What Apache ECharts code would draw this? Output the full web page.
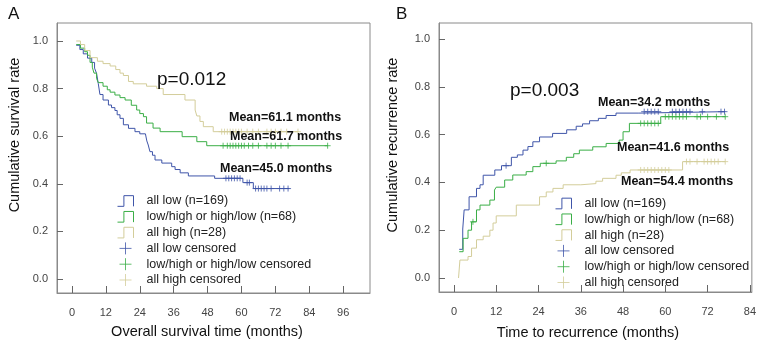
<!DOCTYPE html>
<html>
<head>
<meta charset="utf-8">
<script src="https://cdn.jsdelivr.net/npm/echarts@6/dist/echarts.min.js"></script>
<style>
  html, body { margin: 0; padding: 0; background: #fff; }
  #chart { width: 759px; height: 345px; }
</style>
</head>
<body>
<div id="chart"></div>
<script>
// ---- data ----
// panel A: overall survival, [months, cumulative survival]
var osLow = [[1.5,0.982],[2.8,0.964],[4,0.946],[5.5,0.928],[7,0.91],[8,0.886],[8.7,0.864],[9.3,0.822],[9.9,0.775],[11,0.752],[12.9,0.731],[14,0.72],[15.2,0.708],[16,0.69],[17,0.675],[18.2,0.648],[20,0.633],[22.3,0.619],[24,0.61],[26,0.604],[26.5,0.58],[27,0.563],[27.6,0.535],[28.5,0.52],[29.4,0.5],[31.8,0.487],[35.3,0.472],[36.5,0.46],[38.3,0.446],[41.2,0.433],[50.5,0.423],[60.5,0.405],[64.2,0.38],[77,0.38]];
var osMix = [[1.5,0.985],[3,0.97],[4.5,0.955],[5.5,0.94],[6.4,0.91],[7.2,0.89],[7.8,0.865],[8.7,0.843],[9.3,0.825],[11,0.81],[12.5,0.795],[13.5,0.785],[15.2,0.773],[17,0.762],[18.8,0.752],[21,0.73],[22.9,0.71],[24,0.695],[25.3,0.682],[26.4,0.655],[28.7,0.634],[31.2,0.619],[39,0.598],[44.2,0.577],[47.7,0.56],[90.5,0.56]];
var osHigh = [[1.5,1.0],[3,0.985],[4.5,0.96],[6.4,0.93],[9,0.915],[11,0.905],[13.5,0.895],[15.5,0.88],[17,0.865],[18.2,0.855],[20,0.83],[21.7,0.82],[26.4,0.81],[30,0.8],[32.3,0.775],[40,0.752],[43.6,0.71],[44.2,0.685],[45.3,0.662],[46.5,0.64],[50,0.619],[80,0.619]];
var osLowCens = [[54.5,0.423],[55.5,0.423],[56.5,0.423],[57.5,0.423],[58.5,0.423],[59.5,0.423],[62,0.405],[62.8,0.405],[65,0.38],[66,0.38],[67,0.38],[68,0.38],[69,0.38],[70.5,0.38],[73.5,0.38],[75,0.38],[76.5,0.38]];
var osMixCens = [[53.5,0.56],[55,0.56],[56,0.56],[57,0.56],[58,0.56],[59,0.56],[60,0.56],[61,0.56],[62.5,0.56],[64,0.56],[66,0.56],[69,0.56],[70.5,0.56],[72,0.56],[74,0.56],[76.5,0.56],[90.5,0.56]];
var osHighCens = [[53,0.619],[54,0.619],[55,0.619],[56,0.619],[57,0.619],[58,0.619],[59,0.619],[60,0.619],[62,0.619],[64,0.619],[66,0.619],[69,0.619],[70.5,0.619],[72,0.619],[74,0.619],[76,0.619],[80,0.619]];

// panel B: time to recurrence, [months, cumulative recurrence]
var rfsLow = [[1.5,0.12],[2.5,0.205],[2.9,0.285],[4.3,0.34],[6.4,0.375],[7.4,0.39],[8.3,0.43],[11.6,0.452],[13.5,0.47],[16.3,0.505],[18,0.515],[19.6,0.535],[21,0.55],[22.4,0.57],[24.3,0.59],[28,0.605],[32,0.62],[34.7,0.635],[36.5,0.645],[38.5,0.658],[41,0.668],[43.2,0.68],[46,0.69],[52.5,0.696],[77,0.696]];
var rfsMix = [[1.5,0.11],[2.6,0.166],[4,0.2],[5,0.235],[6.4,0.285],[7.4,0.305],[10.2,0.326],[11.5,0.368],[12,0.38],[14.4,0.41],[16.7,0.431],[20.5,0.445],[22.4,0.466],[24.5,0.48],[29,0.49],[31.9,0.505],[34,0.52],[35.6,0.535],[39.4,0.549],[43.2,0.563],[46.9,0.577],[48,0.612],[49.8,0.647],[58.7,0.675],[77,0.675]];
var rfsHigh = [[1.3,0.0],[1.7,0.075],[4,0.09],[5,0.125],[6.4,0.16],[8.3,0.175],[10.2,0.2],[11.1,0.23],[12,0.26],[17.7,0.305],[24.3,0.34],[26.2,0.36],[28.1,0.375],[31,0.39],[36,0.395],[40.3,0.405],[42.2,0.417],[46,0.43],[47.5,0.44],[50,0.452],[64.9,0.487],[77,0.487]];
var rfsLowCens = [[14.8,0.47],[54,0.696],[55,0.696],[56,0.696],[57,0.696],[58,0.696],[62,0.696],[63,0.696],[64,0.696],[65,0.696],[66,0.696],[67,0.696],[70.5,0.696],[75.8,0.696],[76.8,0.696]];
var rfsMixCens = [[5.4,0.235],[26.2,0.48],[53,0.647],[54,0.647],[55,0.647],[56,0.647],[57,0.647],[58,0.647],[60,0.675],[61,0.675],[62,0.675],[63,0.675],[64,0.675],[65,0.675],[66,0.675],[69,0.675],[70,0.675],[72,0.675],[74.5,0.675],[77,0.675]];
var rfsHighCens = [[53,0.452],[54,0.452],[55,0.452],[56,0.452],[57,0.452],[58,0.452],[59,0.452],[60,0.452],[61,0.452],[66,0.487],[67,0.487],[69,0.487],[71,0.487],[72,0.487],[73,0.487],[74,0.487],[75,0.487],[77,0.487]];

var osTicks = [0, 12, 24, 36, 48, 60, 72, 84, 96];
var rfsTicks = [0, 12, 24, 36, 48, 60, 72, 84];
var rateTicks = [0, 0.2, 0.4, 0.6, 0.8, 1.0];

var groupNames = ['all low (n=169)', 'low/high or high/low (n=68)', 'all high (n=28)'];
var censNames = ['all low censored', 'low/high or high/low censored', 'all high censored'];
var osMeans = ['Mean=45.0 months', 'Mean=61.7 months', 'Mean=61.1 months'];
var rfsMeans = ['Mean=34.2 months', 'Mean=41.6 months', 'Mean=54.4 months'];
var osP = 'p=0.012';
var rfsP = 'p=0.003';

// ---- styling ----
var FONT = '"Liberation Sans", Arial, Helvetica, sans-serif';
var colors = ['#3f55a9', '#3aae46', '#d3cd9a'];
var frame = '#8a8a8a';
var STEP_ICON = 'path://M0,10L6,10L6,0L15,0L15,10';
var PLUS = 'path://M5,0L5,10M0,5L10,5';

// ticks sit outside the frame (as in the SPSS original)
function xAxisFor(gi, min, max, ticks) {
  return {
    type: 'value', gridIndex: gi, min: min, max: max, position: 'bottom',
    axisLine: { show: true, onZero: false, lineStyle: { color: frame, width: 1 } },
    splitLine: { show: false },
    axisTick: { show: true, inside: true, length: 7, customValues: ticks, lineStyle: { color: '#666' } },
    axisLabel: { customValues: ticks, margin: 14, color: '#444', fontSize: 11, fontFamily: FONT }
  };
}
function yAxisFor(gi, min, max) {
  return {
    type: 'value', gridIndex: gi, min: min, max: max, position: 'left',
    axisLine: { show: true, onZero: false, lineStyle: { color: frame, width: 1 } },
    splitLine: { show: false },
    axisTick: { show: true, inside: true, length: 6, customValues: rateTicks, lineStyle: { color: '#666' } },
    axisLabel: { customValues: rateTicks, margin: 9, color: '#444', fontSize: 11, fontFamily: FONT,
      formatter: function (v) { return v.toFixed(1); } }
  };
}
function stepSeries(name, gi, data, c) {
  return { name: name, type: 'line', xAxisIndex: gi, yAxisIndex: gi, data: data, step: 'end',
    showSymbol: false, symbol: 'none', silent: true, lineStyle: { color: c, width: 1 }, itemStyle: { color: c },
    emphasis: { disabled: true }, z: 3 };
}
function censSeries(name, gi, data, c) {
  return { name: name, type: 'scatter', xAxisIndex: gi, yAxisIndex: gi, data: data, symbol: PLUS,
    symbolSize: 6, silent: true, itemStyle: { color: c, borderColor: c, borderWidth: 1 }, z: 4 };
}
function makeLegend(left, top) {
  var data = [];
  groupNames.forEach(function (n, i) {
    data.push({ name: n, icon: STEP_ICON, itemStyle: { color: 'transparent', borderColor: colors[i], borderWidth: 1 } });
  });
  censNames.forEach(function (n, i) {
    data.push({ name: n, icon: PLUS, itemStyle: { color: 'transparent', borderColor: colors[i], borderWidth: 1 } });
  });
  return { left: left, top: top, orient: 'vertical', itemWidth: 16, itemHeight: 12, itemGap: 2.8,
    selectedMode: false, padding: 0, symbolKeepAspect: true,
    textStyle: { fontFamily: FONT, fontSize: 12.5, color: '#222', padding: [0, 0, 0, 8] }, data: data };
}
function txt(x, y, s, size, extra) {
  var st = { text: s, font: (extra && extra.bold ? 'bold ' : '') + size + 'px ' + FONT, fill: '#111',
    textAlign: (extra && extra.align) || 'left', align: (extra && extra.align) || 'left',
    textVerticalAlign: 'middle', verticalAlign: 'middle' };
  return { type: 'text', x: x, y: y, rotation: (extra && extra.rot) || 0, style: st, z: 10 };
}

var chart = echarts.init(document.getElementById('chart'), null, { renderer: 'canvas' });
chart.setOption({
  animation: false,
  backgroundColor: '#fff',
  grid: [
    { left: 57, top: 23, width: 313, height: 270, show: true, borderColor: frame, borderWidth: 1, backgroundColor: '#fff' },
    { left: 439, top: 23, width: 314, height: 269, show: true, borderColor: frame, borderWidth: 1, backgroundColor: '#fff' }
  ],
  xAxis: [ xAxisFor(0, -5.3, 105.5, osTicks), xAxisFor(1, -4.24, 84.56, rfsTicks) ],
  yAxis: [ yAxisFor(0, -0.0588, 1.0756), yAxisFor(1, -0.0586, 1.067) ],
  legend: [ makeLegend(117, 194.5), makeLegend(555, 197) ],
  series: [
    stepSeries(groupNames[0], 0, osLow, colors[0]),
    stepSeries(groupNames[1], 0, osMix, colors[1]),
    stepSeries(groupNames[2], 0, osHigh, colors[2]),
    censSeries(censNames[0], 0, osLowCens, colors[0]),
    censSeries(censNames[1], 0, osMixCens, colors[1]),
    censSeries(censNames[2], 0, osHighCens, colors[2]),
    stepSeries(groupNames[0], 1, rfsLow, colors[0]),
    stepSeries(groupNames[1], 1, rfsMix, colors[1]),
    stepSeries(groupNames[2], 1, rfsHigh, colors[2]),
    censSeries(censNames[0], 1, rfsLowCens, colors[0]),
    censSeries(censNames[1], 1, rfsMixCens, colors[1]),
    censSeries(censNames[2], 1, rfsHighCens, colors[2])
  ],
  graphic: [
    txt(8, 14, 'A', 17),
    txt(396, 14, 'B', 17),
    txt(15, 135, 'Cumulative survival rate', 14.5, { align: 'center', rot: Math.PI / 2 }),
    txt(207, 332, 'Overall survival time (months)', 14.5, { align: 'center' }),
    txt(393, 145, 'Cumulative recurrence rate', 14.5, { align: 'center', rot: Math.PI / 2 }),
    txt(588, 333, 'Time to recurrence (months)', 14.5, { align: 'center' }),
    txt(157, 80, osP, 19),
    txt(510, 91, rfsP, 19),
    txt(229, 118, osMeans[2], 12.5, { bold: true }),
    txt(230, 137, osMeans[1], 12.5, { bold: true }),
    txt(220, 169, osMeans[0], 12.5, { bold: true }),
    txt(598, 103, rfsMeans[0], 12.5, { bold: true }),
    txt(617, 148, rfsMeans[1], 12.5, { bold: true }),
    txt(621, 182, rfsMeans[2], 12.5, { bold: true })
  ]
});
window.addEventListener('resize', function () { chart.resize(); });
</script>
</body>
</html>
